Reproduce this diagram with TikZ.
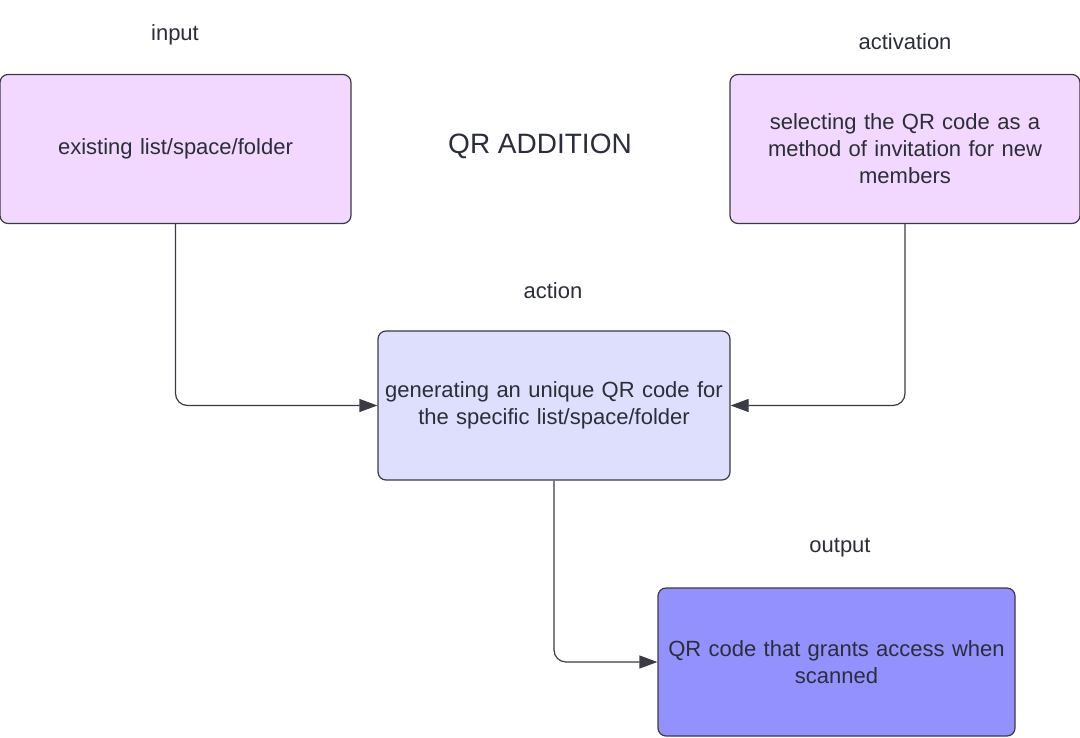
\documentclass[tikz,border=0pt]{standalone}
\usepackage{fontspec}
\setmainfont{Liberation Sans}
\usetikzlibrary{arrows.meta}
\definecolor{boxline}{HTML}{3A3B45}
\definecolor{boxtext}{HTML}{2B2E38}
\definecolor{pinkfill}{HTML}{F2D7FE}
\definecolor{lilacfill}{HTML}{DDDFFD}
\definecolor{bluefill}{HTML}{9391FD}
\tikzset{
  stepbox/.style={draw=boxline, line width=1.2pt, rounded corners=8pt, align=center,
    inner sep=0pt, font=\fontsize{22}{27}\selectfont, text=boxtext},
  caption/.style={font=\fontsize{22}{26}\selectfont, text=boxtext},
  link/.style={draw=boxline, line width=1.2pt, rounded corners=12pt,
    -{Triangle[length=18pt,width=13pt]}}
}

\begin{document}
\begin{tikzpicture}[x=1pt,y=-1pt]
\useasboundingbox (0,0) rectangle (1080,737);
\node[stepbox, fill=pinkfill, minimum width=351pt, minimum height=149pt, text width=340pt] (input) at (175.5,149) {existing list/space/folder};
\node[stepbox, fill=pinkfill, minimum width=350pt, minimum height=149pt, text width=340pt] (activation) at (905,149) {selecting the QR code as a\\method of invitation for new\\members};
\node[stepbox, fill=lilacfill, minimum width=352pt, minimum height=149pt, text width=348pt] (action) at (554,405.5) {generating an unique QR code for\\the specific list/space/folder};
\node[stepbox, fill=bluefill, minimum width=357pt, minimum height=148pt, text width=350pt] (output) at (836.5,662) {QR code that grants access when\\scanned};

\node[caption] (inputlabel) at (175,35) {input};
\node[caption] (activationlabel) at (905,42) {activation};
\node[caption] (actionlabel) at (553,291) {action};
\node[caption] (outputlabel) at (840,548) {output};
\node[font=\fontsize{28}{32}\selectfont, text=boxtext] (title) at (540,146) {QR ADDITION};

\draw[link] (input.south) |- (action.west);
\draw[link] (activation.south) |- (action.east);
\draw[link] (action.south) |- (output.west);
\end{tikzpicture}
\end{document}
